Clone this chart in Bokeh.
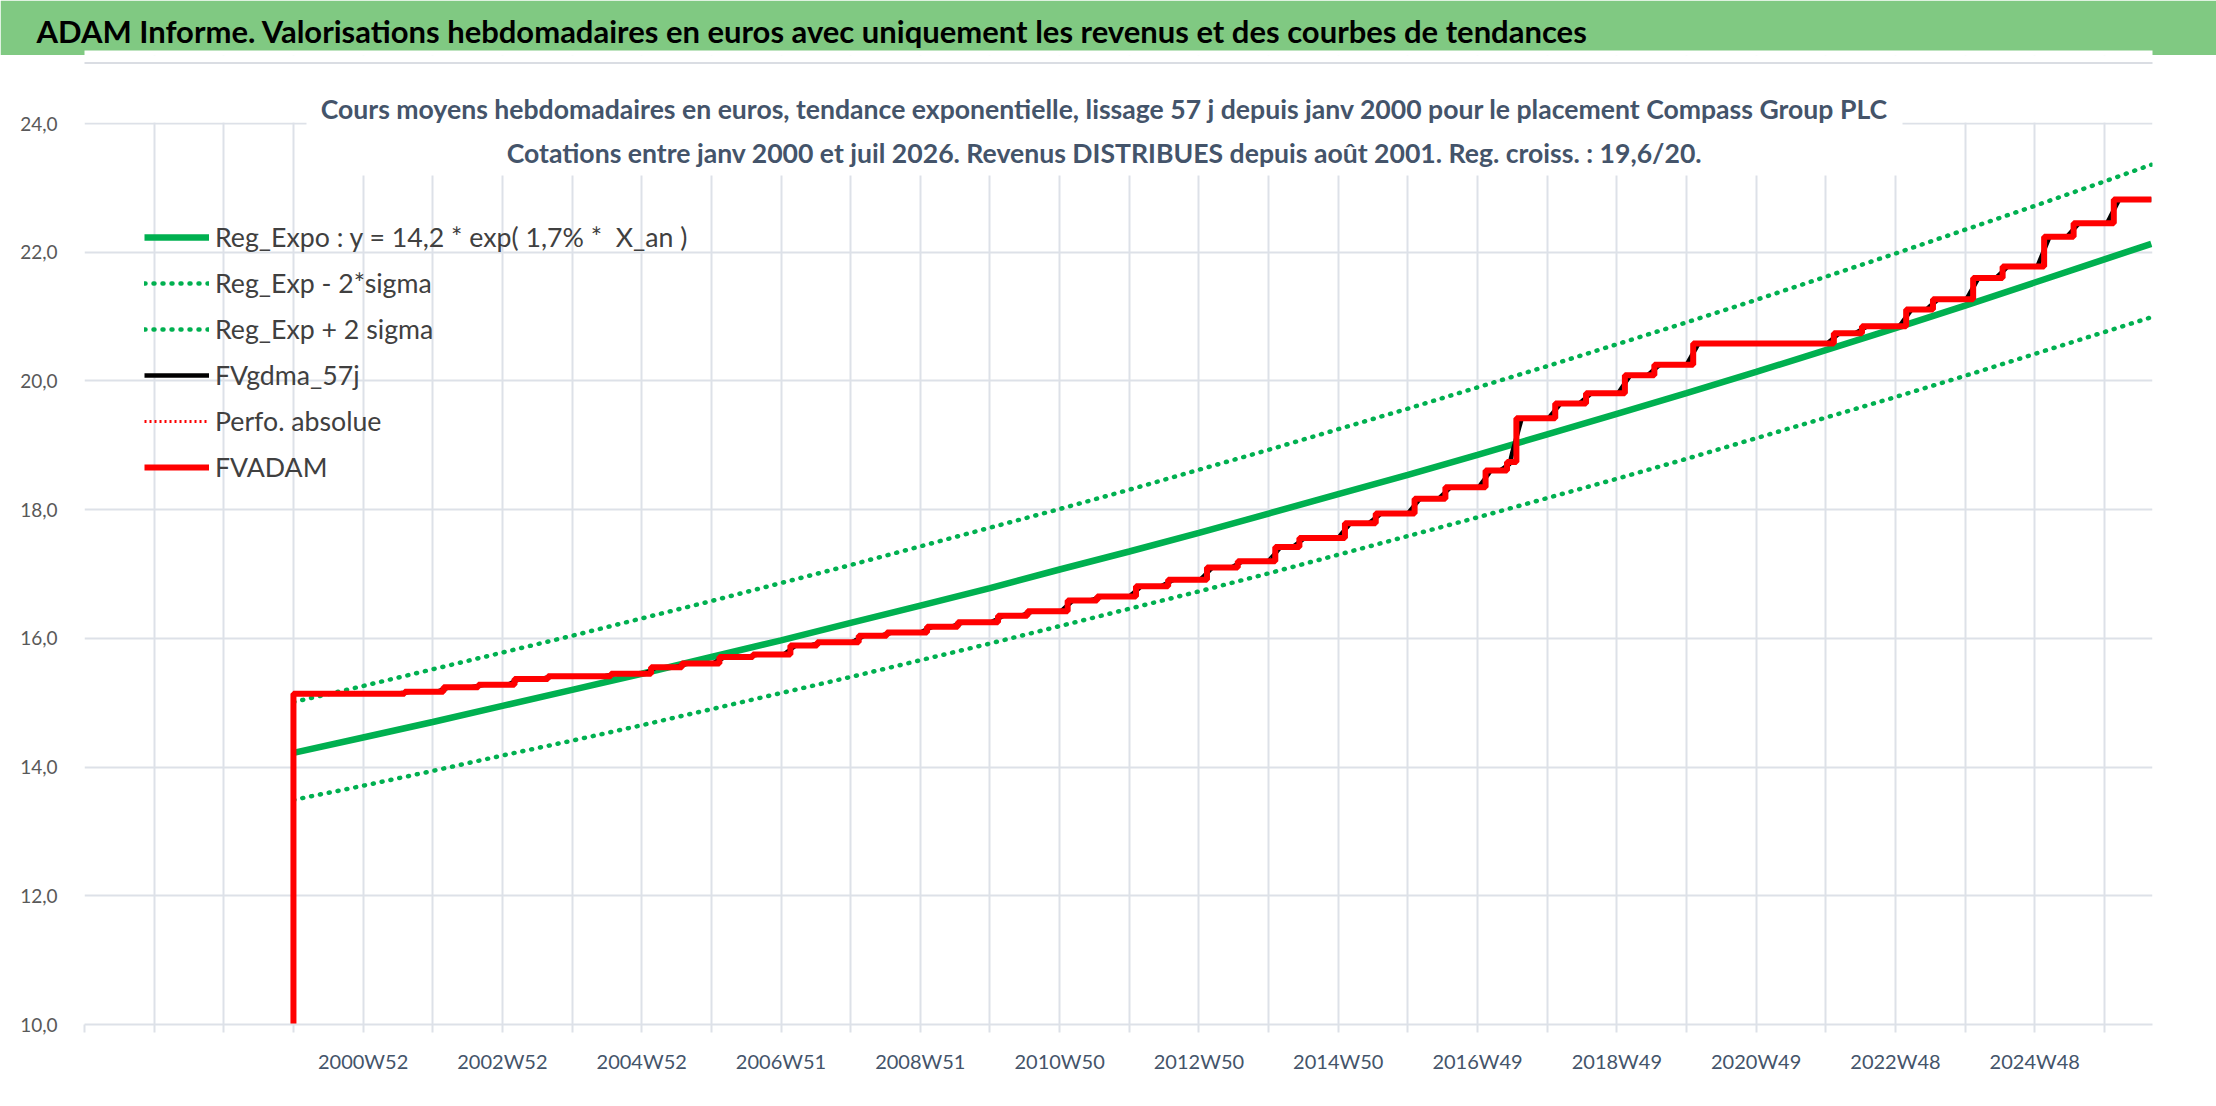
import numpy as np
import pandas as pd
from bokeh.plotting import figure
from bokeh.models import Range1d, FixedTicker, Label, BoxAnnotation, Legend, LegendItem
from bokeh.layouts import column
from bokeh.embed import file_html
from bokeh.resources import INLINE

FONT = "Lato"
GREEN = "#00B050"
RED = "#FF0000"
GRID = "#DDE1E8"
BANNER_GREEN = "#80C982"

# ---------------- texts ----------------
banner_text = ("ADAM Informe. Valorisations hebdomadaires en euros avec uniquement "
               "les revenus et des courbes de tendances")
title_line1 = ("Cours moyens hebdomadaires en euros, tendance exponentielle, lissage 57 j "
               "depuis janv 2000 pour le placement Compass Group PLC")
title_line2 = ("Cotations entre janv 2000 et juil 2026. Revenus DISTRIBUES depuis août 2001. "
               "Reg. croiss. : 19,6/20.")
legend_labels = ["Reg_Expo : y = 14,2 * exp( 1,7% *  X_an )", "Reg_Exp - 2*sigma",
                 "Reg_Exp + 2 sigma", "FVgdma_57j", "Perfo. absolue", "FVADAM"]

# ---------------- axis (week index: 0 = first category, 156 = janv 2000) ----------------
x_last_week = 1543.9
x_grid_weeks = [0, 52, 104, 156, 208, 260, 312, 364, 416, 468, 520, 572, 624, 676, 728,
                780, 832, 884, 936, 988, 1040, 1092, 1144, 1196, 1248, 1300, 1352, 1404,
                1456, 1508]
x_label_weeks = [208, 312, 416, 520, 624, 728, 832, 936, 1040, 1144, 1248, 1352, 1456]
x_label_texts = ["2000W52", "2002W52", "2004W52", "2006W51", "2008W51", "2010W50",
                 "2012W50", "2014W50", "2016W49", "2018W49", "2020W49", "2022W48", "2024W48"]
y_ticks = [10, 12, 14, 16, 18, 20, 22, 24]
y_labels = ["10,0", "12,0", "14,0", "16,0", "18,0", "20,0", "22,0", "24,0"]
y_min, y_room_above = 10, 25.057   # room above 24,0 holds the chart title

# ---------------- series ----------------
trend_week = [156, 208, 260, 312, 364, 416, 468, 520, 572, 624, 676, 728, 780, 832, 884,
              936, 988, 1040, 1092, 1144, 1196, 1248, 1300, 1352, 1404, 1456, 1508, 1543]
reg_expo = [14.22, 14.46, 14.70, 14.95, 15.20, 15.45, 15.71, 15.97, 16.24, 16.51, 16.78,
            17.07, 17.35, 17.64, 17.94, 18.24, 18.54, 18.85, 19.17, 19.49, 19.81, 20.14,
            20.48, 20.82, 21.17, 21.53, 21.89, 22.13]
reg_minus = [13.49, 13.71, 13.94, 14.18, 14.41, 14.65, 14.90, 15.15, 15.40, 15.66, 15.92,
             16.19, 16.46, 16.73, 17.01, 17.30, 17.59, 17.88, 18.18, 18.48, 18.79, 19.11,
             19.43, 19.75, 20.08, 20.42, 20.76, 20.99]
reg_plus = [15.01, 15.26, 15.52, 15.78, 16.04, 16.31, 16.58, 16.86, 17.14, 17.43, 17.72,
            18.01, 18.31, 18.62, 18.93, 19.25, 19.57, 19.90, 20.23, 20.57, 20.91, 21.26,
            21.62, 21.98, 22.35, 22.72, 23.10, 23.36]

fv_floor = 10.0
fv_week = [156, 239, 268, 294, 321, 346, 393, 423, 446, 474, 499, 527, 547, 578, 599, 629,
           652, 682, 704, 734, 756, 785, 809, 838, 861, 889, 907, 941, 964, 993, 1016, 1046,
           1062, 1069, 1098, 1121, 1150, 1172, 1201, 1306, 1327, 1360, 1380, 1410, 1432,
           1463, 1485, 1515]
fv_value = [15.14, 15.17, 15.24, 15.28, 15.37, 15.41, 15.45, 15.55, 15.61, 15.71, 15.75,
            15.89, 15.94, 16.04, 16.09, 16.18, 16.25, 16.35, 16.42, 16.59, 16.65, 16.81,
            16.91, 17.10, 17.20, 17.42, 17.56, 17.79, 17.94, 18.17, 18.35, 18.61, 18.74,
            19.42, 19.65, 19.81, 20.09, 20.25, 20.58, 20.74, 20.85, 21.11, 21.27, 21.60,
            21.78, 22.24, 22.45, 22.82]
fv_end_week = 1543

# step polyline for FVADAM
sx, sy = [fv_week[0]], [fv_floor]
for i, (w, v) in enumerate(zip(fv_week, fv_value)):
    if i > 0:
        sx.append(w)
        sy.append(fv_value[i - 1])
    sx.append(w)
    sy.append(v)
sx.append(fv_end_week)
sy.append(fv_value[-1])

# FVgdma_57j : moving average (~57 days = 8 weeks) of the weekly FVADAM values
weeks = np.arange(fv_week[0], fv_end_week + 1)
pos = np.searchsorted(np.array(fv_week), weeks, side="right") - 1
weekly = np.array(fv_value)[pos]
smooth = pd.Series(weekly).rolling(9, center=True, min_periods=1).mean().to_numpy()

W = 2216

# ---------------- banner figure ----------------
banner = figure(width=W, height=55, x_range=Range1d(0, 1), y_range=Range1d(0, 1),
                toolbar_location=None, output_backend="svg", min_border=0,
                min_border_top=50,
                x_axis_location=None, y_axis_location=None,
                title=banner_text, title_location="above")
banner.grid.visible = False
banner.outline_line_color = None
banner.background_fill_alpha = 0
banner.border_fill_color = BANNER_GREEN
banner.title.align = "left"
banner.title.offset = -48
banner.title.standoff = 2
banner.title.text_font = FONT
banner.title.text_font_style = "bold"
banner.title.text_font_size = "31px"
banner.title.text_color = "black"

# ---------------- chart figure ----------------
p = figure(width=W, height=1051, x_range=Range1d(0, x_last_week),
           y_range=Range1d(y_min, y_room_above),
           toolbar_location=None, output_backend="svg",
           min_border_left=84, min_border_right=64, min_border_top=0, min_border_bottom=82)
p.outline_line_color = None
p.background_fill_color = "white"
p.border_fill_color = "white"

p.xaxis.ticker = FixedTicker(ticks=x_grid_weeks)
xo = {w: "" for w in x_grid_weeks}
xo.update(dict(zip(x_label_weeks, x_label_texts)))
p.xaxis.major_label_overrides = xo
p.xaxis.axis_line_color = GRID
p.xaxis.axis_line_width = 2
p.xaxis.major_tick_line_color = GRID
p.xaxis.major_tick_line_width = 2
p.xaxis.major_tick_out = 8
p.xaxis.major_tick_in = 0
p.xaxis.minor_tick_line_color = None
p.xaxis.major_label_text_font = FONT
p.xaxis.major_label_text_font_size = "20px"
p.xaxis.major_label_text_color = "#44546A"
p.xaxis.major_label_standoff = 16

p.yaxis.ticker = FixedTicker(ticks=y_ticks)
p.yaxis.major_label_overrides = dict(zip(y_ticks, y_labels))
p.yaxis.axis_line_color = None
p.yaxis.major_tick_line_color = None
p.yaxis.minor_tick_line_color = None
p.yaxis.major_label_text_font = FONT
p.yaxis.major_label_text_font_size = "19px"
p.yaxis.major_label_text_color = "#595959"
p.yaxis.major_label_standoff = 21

p.xgrid.grid_line_color = GRID
p.xgrid.grid_line_width = 2
p.ygrid.grid_line_color = GRID
p.ygrid.grid_line_width = 2

r1 = p.line(trend_week, reg_expo, line_color=GREEN, line_width=6.5)
r2 = p.line(trend_week, reg_minus, line_color=GREEN, line_width=4.5, line_dash="1 8",
            line_cap="round")
r3 = p.line(trend_week, reg_plus, line_color=GREEN, line_width=4.5, line_dash="1 8",
            line_cap="round")
r4 = p.line(weeks, smooth, line_color="black", line_width=4.5)
r5 = p.line(sx, sy, line_color=RED, line_width=3, line_dash="2 3")
r6 = p.line(sx, sy, line_color=RED, line_width=6)

# white areas: above the 24,0 line, and the title box that hides the grid
p.add_layout(BoxAnnotation(left=-100, right=2300, bottom=902, top=1100,
                           left_units="screen", right_units="screen",
                           bottom_units="screen", top_units="screen",
                           fill_color="white", fill_alpha=1.0, line_color=None))
p.add_layout(BoxAnnotation(left=222, right=1818, bottom=849, top=903,
                           left_units="screen", right_units="screen",
                           bottom_units="screen", top_units="screen",
                           fill_color="white", fill_alpha=1.0, line_color=None))
# thin separator under the banner
p.add_layout(BoxAnnotation(left=-100, right=2300, bottom=960.5, top=962.5,
                           left_units="screen", right_units="screen",
                           bottom_units="screen", top_units="screen",
                           fill_color="#DADDE3", fill_alpha=1.0, line_color=None))
for txt, yy in [(title_line1, 916), (title_line2, 872)]:
    p.add_layout(Label(x=1020, y=yy, x_units="screen", y_units="screen", text=txt,
                       text_font=FONT, text_font_style="bold", text_font_size="26.6px",
                       text_color="#44546A", text_align="center",
                       text_baseline="alphabetic"))

legend = Legend(items=[LegendItem(label=t, renderers=[r]) for t, r in
                       zip(legend_labels, [r1, r2, r3, r4, r5, r6])],
                location=(60, 534), orientation="vertical",
                glyph_width=65, glyph_height=46, label_height=46, label_standoff=6,
                spacing=0, padding=0, margin=0,
                label_text_font=FONT, label_text_font_size="26.7px",
                label_text_color="#404040", background_fill_alpha=0,
                border_line_color=None)
p.add_layout(legend)

layout = column(banner, p)
open("out.html", "w").write(file_html(layout, INLINE))
